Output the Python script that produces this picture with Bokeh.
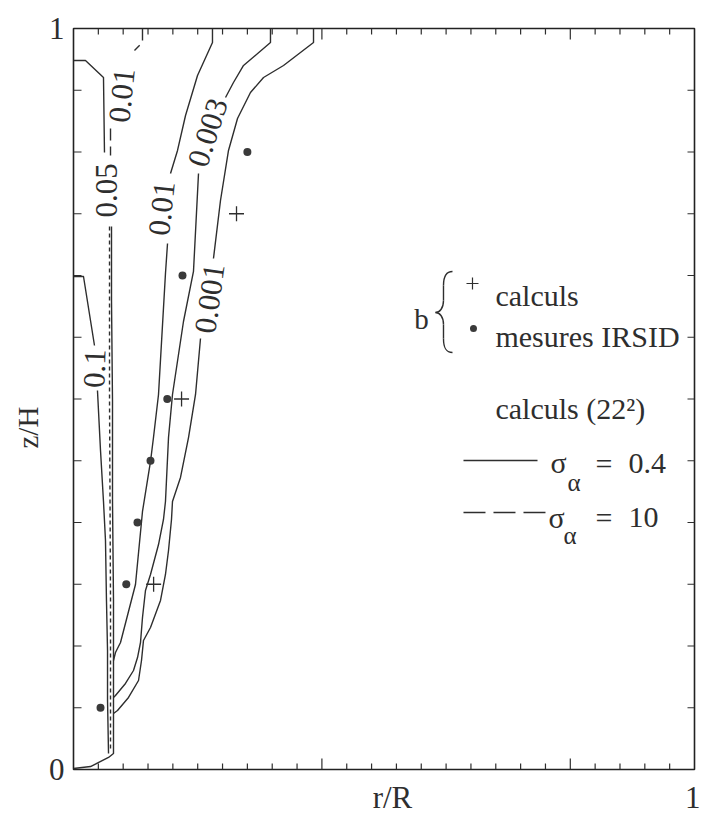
import math
from bokeh.plotting import figure
from bokeh.models import LinearAxis, FixedTicker, Title, Range1d
from bokeh.core.properties import value
from bokeh.embed import file_html
from bokeh.resources import INLINE

nan = float("nan")

# ---- data (r/R, z/H) ----
# solid contours, sigma_alpha = 0.4 (nan = gap for contour label)
c010_x = [0, 0.0161, 0.0338, nan, 0.0386, 0.0435, 0.0483, 0.0515, 0.0531, 0.0548, 0.0548, 0.0564]
c010_y = [0.6653, 0.6653, 0.5722, nan, 0.5115, 0.4305, 0.3617, 0.3090, 0.2281, 0.1606, 0.0931, 0.0216]

c005_x = [0, 0.0193, 0.0483, 0.0499, nan, 0.0612, 0.0612, 0.0628, 0.0628, 0.0644, 0.0644, 0.0644, 0.0564, 0.0274, 0]
c005_y = [0.9568, 0.9568, 0.9339, 0.8327, nan, 0.7328, 0.6329, 0.4980, 0.3630, 0.2281, 0.0931, 0.0216, 0.0162, 0.0040, 0.0013]

c001_x = [0.2238, 0.2238, 0.1997, 0.1804, 0.1675, 0.1562, nan, 0.1514, 0.1481, 0.1369, 0.1288, 0.1240,
          0.1111, 0.0998, 0.0757, 0.0676, 0.0644]
c001_y = [1.0, 0.9811, 0.9366, 0.8826, 0.8354, 0.8043, nan, 0.7099, 0.6694, 0.5061, 0.4480, 0.4157,
          0.3482, 0.2497, 0.1714, 0.1579, 0.1471]

c0003_x = [0.3172, 0.3172, 0.2738, 0.2576, 0.2448, nan, 0.2013, 0.1932, 0.1771, 0.1594, 0.1530, 0.1481,
           0.1449, 0.1369, 0.1240, 0.1159, 0.1111, 0.1079, 0.1031, 0.0966, 0.0837, 0.0676, 0.0644]
c0003_y = [1.0, 0.9811, 0.9501, 0.9271, 0.9069, nan, 0.8043, 0.6721, 0.6046, 0.5061, 0.4480, 0.3617,
           0.3374, 0.3036, 0.2632, 0.2416, 0.2051, 0.1714, 0.1511, 0.1336, 0.1161, 0.0999, 0.0972]

c0001_x = [0.3865, 0.3865, 0.3382, 0.3060, 0.2850, 0.2641, 0.2496, 0.2367, 0.2254, nan, 0.2045, 0.1965,
           0.1852, 0.1723, 0.1594, 0.1578, 0.1530, 0.1481, 0.1401, 0.1240, 0.1127, 0.1095, 0.1047,
           0.0886, 0.0709, 0.0644]
c0001_y = [1.0, 0.9811, 0.9501, 0.9339, 0.9136, 0.8785, 0.8354, 0.7679, 0.6896, nan, 0.5816, 0.5061,
           0.4480, 0.3941, 0.3617, 0.3374, 0.2955, 0.2632, 0.2281, 0.1916, 0.1741, 0.1471, 0.1201,
           0.0972, 0.0796, 0.0756]

# dashed contours, sigma_alpha = 10
d001_x = [0.1111, 0.1111, 0.0982, nan, 0.0596, 0.0596]
d001_y = [1.0, 0.9811, 0.9703, nan, 0.8650, 0.8286]
d005_x = [0.0580, 0.0580, 0.0596, 0.0596]
d005_y = [0.7328, 0.4980, 0.2281, 0.0256]

# contour labels
lab_text = ["0.01", "0.05", "0.1", "0.01", "0.003", "0.001"]
lab_x = [0.0773, 0.0531, 0.0338, 0.1417, 0.2158, 0.2190]
lab_y = [0.9096, 0.7814, 0.5412, 0.7571, 0.8596, 0.6356]
lab_angle = [84, 90, 88, 84, 72, 82]

# b: calculations (+) and IRSID measurements (dots)
calc_x = [0.129, 0.174, 0.2625]
calc_y = [0.25, 0.5, 0.75]
meas_x = [0.0435, 0.085, 0.103, 0.124, 0.151, 0.1755, 0.280]
meas_y = [0.0833, 0.25, 0.3333, 0.4167, 0.5, 0.6667, 0.8333]

# ticks and tick labels
x_major = [0.4, 0.8]
x_minor = [round(0.04 * i, 2) for i in range(1, 25) if i % 10 != 0]
y_ticks = [i / 12 for i in range(1, 12)]
y_label_ticks = [0.0, 1.0]
y_label_text = ["0", "1"]
x_label_ticks = [0.5137, 1.0]
x_label_text = ["r/R", "1"]

INK = "#2e2e2e"
FONT = "Liberation Serif"
FW, FH = 621, 741

p = figure(frame_width=FW, frame_height=FH,
           x_range=Range1d(0, 1), y_range=Range1d(0, 1),
           output_backend="svg", toolbar_location=None,
           x_axis_location=None, y_axis_location=None,
           min_border_left=73, min_border_right=6, min_border_top=28, min_border_bottom=50)
p.xgrid.visible = False
p.ygrid.visible = False
p.outline_line_color = "#222222"
p.outline_line_width = 1.6
p.background_fill_color = "white"
p.border_fill_color = "white"


def label_axis(ticks, texts, size, standoff):
    ax = LinearAxis(ticker=FixedTicker(ticks=ticks, minor_ticks=[]))
    ax.major_tick_in = 0
    ax.major_tick_out = 0
    ax.major_tick_line_color = None
    ax.minor_tick_line_color = None
    ax.axis_line_color = None
    ax.major_label_overrides = {t: s for t, s in zip(ticks, texts)}
    ax.major_label_text_font = FONT
    ax.major_label_text_font_size = size
    ax.major_label_text_color = INK
    ax.major_label_standoff = standoff
    return ax


p.add_layout(label_axis(x_label_ticks, x_label_text, "31px", 10), "below")
p.add_layout(label_axis(y_label_ticks, y_label_text, "31px", 9), "left")
p.add_layout(Title(text="z/H", align="left", offset=321, standoff=4, text_font=FONT,
                   text_font_size="29px", text_font_style="normal", text_color=INK), "left")

# inward ticks on all four sides (lengths in px converted to data units)
tick_kw = dict(line_color=INK, line_width=1.2)
for xs, L in [(x_major, 11), (x_minor, 6)]:
    d = L / FH
    p.segment(x0=xs, y0=[0] * len(xs), x1=xs, y1=[d] * len(xs), **tick_kw)
    p.segment(x0=xs, y0=[1] * len(xs), x1=xs, y1=[1 - d] * len(xs), **tick_kw)
p.segment(x0=[0] * len(y_ticks), y0=y_ticks, x1=[8 / FW] * len(y_ticks), y1=y_ticks, **tick_kw)
p.segment(x0=[1] * len(y_ticks), y0=y_ticks, x1=[1 - 7 / FW] * len(y_ticks), y1=y_ticks, **tick_kw)

# solid contours
for xs, ys in [(c010_x, c010_y), (c005_x, c005_y), (c001_x, c001_y),
               (c0003_x, c0003_y), (c0001_x, c0001_y)]:
    p.line(xs, ys, line_color=INK, line_width=1.4, line_join="round")

# dashed contours
p.line(d001_x, d001_y, line_color=INK, line_width=1.4, line_dash="12 6")
p.line(d005_x, d005_y, line_color=INK, line_width=1.4, line_dash="4 3")

# contour labels
p.text(x=lab_x, y=lab_y, text=lab_text, angle=lab_angle, angle_units="deg",
       text_align="center", text_baseline="middle", text_font=value(FONT),
       text_font_size="31px", text_color=INK)

# data points
p.scatter(meas_x, meas_y, marker="circle", size=8, fill_color="#3a3a3a", line_color=None)
p.scatter(calc_x, calc_y, marker="cross", size=15, line_color=INK, line_width=1.3)

# ---- legend block ----
tf = dict(text_font=value(FONT), text_color=INK)
p.text(x=[0.5604], y=[0.6086], text=["b"], text_align="center", text_baseline="alphabetic",
       text_font_size="29px", **tf)
# brace
bx0 = [0.6103, 0.5958, 0.5958, 0.5829, 0.5958, 0.5958]
by0 = [0.6721, 0.6532, 0.6329, 0.6167, 0.6005, 0.5816]
bx1 = [0.5958, 0.5958, 0.5829, 0.5958, 0.5958, 0.6103]
by1 = [0.6532, 0.6329, 0.6167, 0.6005, 0.5816, 0.5628]
bcx0 = [0.5990, 0.5958, 0.5958, 0.5894, 0.5958, 0.5958]
bcy0 = [0.6721, 0.6532, 0.6221, 0.6167, 0.6005, 0.5695]
bcx1 = [0.5958, 0.5958, 0.5894, 0.5958, 0.5958, 0.5990]
bcy1 = [0.6640, 0.6329, 0.6167, 0.6113, 0.5816, 0.5628]
p.bezier(x0=bx0, y0=by0, x1=bx1, y1=by1, cx0=bcx0, cy0=bcy0, cx1=bcx1, cy1=bcy1,
         line_color=INK, line_width=1.4)

p.scatter([0.6425], [0.6559], marker="cross", size=12, line_color=INK, line_width=1.2)
p.scatter([0.6441], [0.5951], marker="circle", size=7, fill_color="#3a3a3a", line_color=None)
p.text(x=[0.6795, 0.6795, 0.6795], y=[0.6397, 0.5843, 0.4872],
       text=["calculs", "mesures IRSID", "calculs (22²)"],
       text_align="left", text_baseline="alphabetic", text_font_size="30px", **tf)

# line styles
p.line([0.628, 0.7472], [0.4170, 0.4170], line_color=INK, line_width=1.3)
p.line([0.628, 0.7633], [0.3468, 0.3468], line_color=INK, line_width=1.3, line_dash="22 8")
p.text(x=[0.7681, 0.7649], y=[0.4143, 0.3401], text=["σ", "σ"], text_align="left",
       text_baseline="alphabetic", text_font_size="30px", **tf)
p.text(x=[0.7955, 0.7890], y=[0.3873, 0.3158], text=["α", "α"], text_align="left",
       text_baseline="alphabetic", text_font_size="25px", **tf)
p.text(x=[0.8406, 0.8406], y=[0.4130, 0.3401], text=["=", "="], text_align="left",
       text_baseline="alphabetic", text_font_size="30px", **tf)
p.text(x=[0.8937, 0.8937], y=[0.4130, 0.3401], text=["0.4", "10"], text_align="left",
       text_baseline="alphabetic", text_font_size="30px", **tf)

open("out.html", "w").write(file_html(p, INLINE))
